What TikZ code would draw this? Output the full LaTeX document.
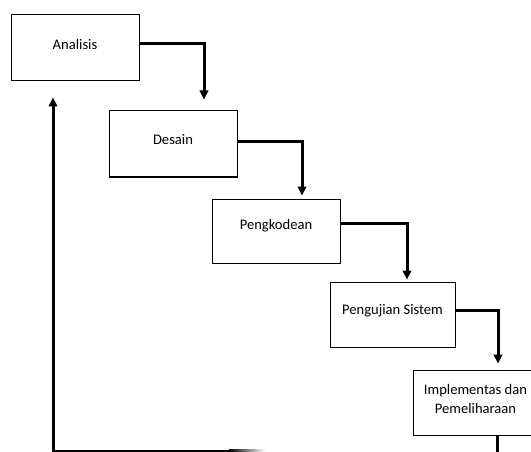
\documentclass[tikz,border=0pt]{standalone}
\usepackage{fontspec}
\setmainfont{Carlito}
\usetikzlibrary{arrows.meta}
\begin{document}
\begin{tikzpicture}[x=1pt,y=-1pt,
  box/.style={draw=black,line width=1pt,minimum width=128pt,minimum height=66pt,inner sep=0pt},
  txt/.style={font=\fontsize{14.6}{19}\selectfont,align=center,inner sep=0pt},
  conn/.style={line width=3pt,-{Triangle[width=8.5pt,length=9pt]}}]
\clip (0,0) rectangle (531,452);
\useasboundingbox (0,0) rectangle (531,452);
\fill[white] (0,0) rectangle (531,452);
% boxes
\node[box] (ana) at (75,48) {};
\node[box] (des) at (173,144) {};
\node[box,minimum height=64pt] (pen) at (276,231) {};
\node[box,minimum width=125pt,minimum height=65pt] (uji) at (392.5,314.5) {};
\node[box,minimum width=125pt,minimum height=65pt] (imp) at (475.5,402.5) {};
% texts
\node[txt] (tana) at ([yshift=4]ana.center) {Analisis};
\node[txt] (tdes) at ([yshift=4]des.center) {Desain};
\node[txt] (tpen) at ([yshift=5]pen.center) {Pengkodean};
\node[txt] (tuji) at ([yshift=4]uji.center) {Pengujian Sistem};
\node[txt] (timp) at ([yshift=4]imp.center) {Implementas dan\\Pemeliharaan};
% connectors
\draw[conn,shorten >=11pt] ([yshift=4]ana.east) -| ([xshift=31]des.north);
\draw[conn,shorten >=3pt] ([yshift=2]des.east) -| ([xshift=26]pen.north);
\draw[conn,shorten >=2pt] ([yshift=8]pen.east) -| ([xshift=14.5]uji.north);
\draw[conn,shorten >=6pt] ([yshift=4.5]uji.east) -| ([xshift=22.5]imp.north);
% feedback
\coordinate (fb) at (231,451);
\draw[line width=3pt] ([xshift=21.5]imp.south) -- ++(0,30);
\shade[left color=black,right color=white] (229,449.5) rectangle (265,452.5);
\draw[conn,shorten >=16pt] (fb) -| ([xshift=-22]ana.south);
\end{tikzpicture}
\end{document}
